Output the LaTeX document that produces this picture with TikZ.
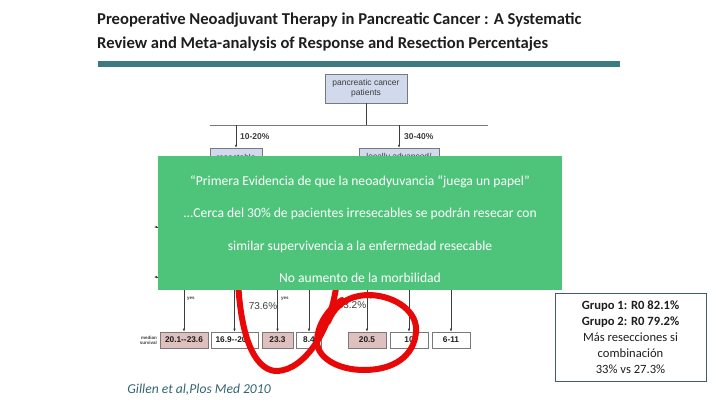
\documentclass[tikz,border=0pt]{standalone}
\usepackage{fontspec}
\setmainfont{Carlito}
\newfontfamily\arialfont{Liberation Sans}
\usetikzlibrary{arrows.meta,positioning}
\definecolor{barteal}{RGB}{60,122,127}
\definecolor{flowblue}{RGB}{208,218,236}
\definecolor{boxgray}{RGB}{120,120,125}
\definecolor{linegray}{RGB}{60,60,60}
\definecolor{survpink}{RGB}{222,192,190}
\definecolor{evidgreen}{RGB}{78,196,122}
\definecolor{markred}{RGB}{232,8,8}
\definecolor{noteslate}{RGB}{70,92,100}
\definecolor{citeteal}{RGB}{50,100,112}
\definecolor{darktext}{RGB}{30,30,30}

\begin{document}
\begin{tikzpicture}[x=1pt,y=-1pt,
    flowbox/.style={draw=boxgray, fill=flowblue, align=center, inner sep=1pt,
      font=\arialfont\fontsize{8.5}{9.5}\selectfont, text=linegray},
    survbox/.style={draw=boxgray, line width=0.6pt, minimum height=16pt, inner sep=1pt,
      font=\arialfont\bfseries\fontsize{8.3}{9}\selectfont, text=darktext},
    pinkbox/.style={survbox, fill=survpink},
    flowline/.style={draw=linegray, line width=0.5pt, -{Latex[length=3pt,width=2.4pt]}},
    tinylabel/.style={font=\arialfont\bfseries\fontsize{4.5}{5}\selectfont, text=linegray, inner sep=0pt},
    pctlabel/.style={font=\arialfont\fontsize{10}{10}\selectfont, text=linegray, inner sep=0pt},
    redmark/.style={draw=markred, line width=6pt, line cap=round, line join=round}]
  \useasboundingbox (0,0) rectangle (720,405);
  % Title and bar
  \node[anchor=west, inner sep=0pt, align=left,
    font=\bfseries\fontsize{16.6}{24}\selectfont, text=darktext] (title) at (97,32)
    {Preoperative Neoadjuvant Therapy in Pancreatic Cancer : A Systematic\\
     Review and Meta-analysis of Response and Resection Percentajes};
  \fill[barteal] (98,61) rectangle (620,67);

  % Flowchart top
  \node[flowbox, minimum width=82pt, minimum height=29pt] (patients) at (366,88.5)
    {pancreatic cancer\\patients};
  \coordinate (hleft) at (210,125);
  \coordinate (hright) at (488,125);
  \coordinate (split) at (366,125);
  \draw[linegray, line width=0.6pt] (patients.south) -- (split);
  \draw[boxgray, line width=0.6pt] (hleft) -- (hright);
  \node[flowbox, minimum width=52pt, minimum height=18pt] (resectable) at (236,157) {resectable};
  \node[flowbox, minimum width=80pt, minimum height=18pt] (locally) at (399,157) {locally advanced/};
  \draw[flowline] (resectable.north |- split) -- (resectable.north);
  \draw[flowline] (locally.north |- split) -- (locally.north);
  \node[anchor=west, inner sep=0pt, font=\arialfont\bfseries\fontsize{8.5}{9}\selectfont,
    text=linegray] (pctres) at (240,137) {10-20\%};
  \node[anchor=west, inner sep=0pt, font=\arialfont\bfseries\fontsize{8.5}{9}\selectfont,
    text=linegray] (pctloc) at (404,137) {30-40\%};

  % Side arrows under the green box
  \coordinate (sideA) at (175,227);
  \coordinate (sideB) at (175,277);
  \draw[flowline] (sideA) -- ++(-21,0);
  \draw[flowline] (sideB) -- ++(-21,0);

  % Median survival boxes
  \node[pinkbox, minimum width=48pt] (surv1) at (184,340) {20.1--23.6};
  \node[survbox, minimum width=47pt] (surv2) at (234.5,340) {16.9--20.\phantom{5}};
  \node[pinkbox, minimum width=31pt] (surv3) at (277.5,340) {23.3};
  \node[survbox, minimum width=25pt] (surv4) at (309,340) {8.4};
  \node[pinkbox, minimum width=38pt] (surv5) at (367,340) {20.5};
  \node[survbox, minimum width=38pt] (surv6) at (409,340) {10};
  \node[survbox, minimum width=38pt] (surv7) at (451,340) {6-11};
  \coordinate (gbottom) at (0,282);
  \foreach \b in {surv1,surv2,surv3,surv4,surv5,surv6,surv7}
    \draw[flowline] (\b.north |- gbottom) -- (\b.north);
  \node[tinylabel, anchor=east, align=right] (median) at (157,340) {median\\survival};
  \node[tinylabel, anchor=west] (yes1) at (187,299) {yes};
  \node[tinylabel, anchor=west] (yes2) at (281,299) {yes};
  \node[tinylabel, anchor=west] (yes3) at (370,298) {yes};
  \node[pctlabel] (pct1) at (263,306) {73.6\%};
  \node[pctlabel] (pct2) at (352,305) {33.2\%};

  % Red hand marks
  \draw[redmark] (238,280) .. controls (241,345) and (258,372) .. (278,371)
    .. controls (305,369) and (332,330) .. (337,280);
  \draw[redmark] (328,322) .. controls (336,302) and (352,295) .. (370,295)
    .. controls (396,296) and (418,312) .. (416,332)
    .. controls (414,356) and (394,370) .. (364,370)
    .. controls (337,370) and (316,357) .. (317,340)
    .. controls (318,324) and (328,309) .. (342,300);

  % Green message box
  \node[fill=evidgreen, minimum width=404pt, minimum height=134pt, inner sep=0pt] (evidence) at (360,223) {};
  \node[align=center, text=white, font=\fontsize{13.6}{32.5}\selectfont] (evidtext) at (360,229)
    {“Primera Evidencia de que la neoadyuvancia “juega un papel”\\
     ...Cerca del 30\% de pacientes irresecables se podrán resecar con\\
     similar supervivencia a la enfermedad resecable\\
     No aumento de la morbilidad};

  % Note box and citation
  \node[draw=noteslate, line width=0.8pt, minimum width=151pt, minimum height=88pt, align=center,
    font=\fontsize{12.6}{16}\selectfont, text=darktext] (note) at (630.5,337)
    {\textbf{Grupo 1: R0 82.1\%}\\ \textbf{Grupo 2: R0 79.2\%}\\ Más resecciones si\\ combinación\\ 33\% vs 27.3\%};
  \node[font=\itshape\fontsize{13.6}{14}\selectfont, text=citeteal] (cite) at (199,390)
    {Gillen et al,Plos Med 2010};
\end{tikzpicture}
\end{document}
